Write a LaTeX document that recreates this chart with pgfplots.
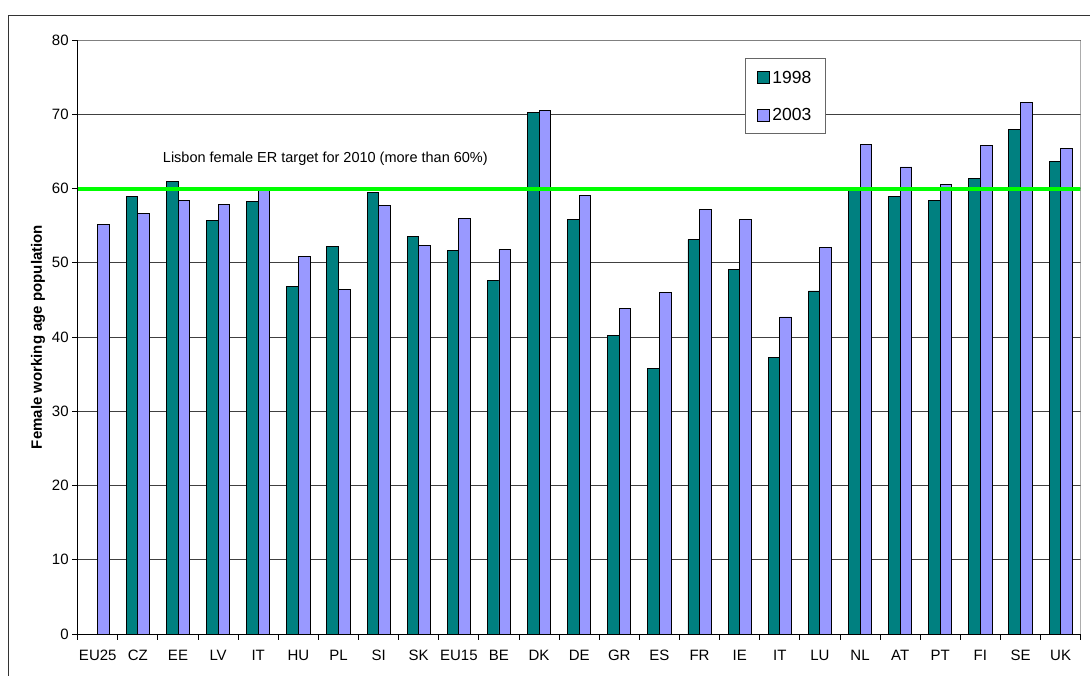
\documentclass[border=0pt]{standalone}
\usepackage{fontspec}
\setmainfont{Liberation Sans}
\usepackage{pgfplots}
\pgfplotsset{compat=1.18}
\definecolor{teal98}{RGB}{0,128,128}
\definecolor{lav03}{RGB}{153,153,255}
\definecolor{lisbon}{RGB}{0,255,0}
\pgfplotsset{barleg/.style={legend image code/.code={\draw[##1,/tikz/.cd,line width=0.8pt] (0pt,-6pt) rectangle (12pt,6pt);}}}
\begin{document}
\begin{tikzpicture}
\path[use as bounding box] (0pt,0pt) rectangle (1090pt,-675pt);
\draw[black!80, line width=1pt] (8pt,-15pt) rectangle (1110pt,-700pt);
\begin{axis}[
    at={(77.7pt,-634pt)}, anchor=south west,
    width=1003pt, height=594pt, scale only axis,
    xmin=-0.5, xmax=24.5,
    ymin=0, ymax=80,
    axis x line*=bottom, axis y line*=left,
    axis line style={black, line width=1pt},
    tick align=outside,
    major tick length=5.5pt,
    ytick={0,10,...,80},
    ymajorgrids,
    grid style={black!75, line width=0.9pt},
    tick style={black, line width=0.9pt},
    xtick={0,...,24},
    xticklabels={EU25,CZ,EE,LV,IT,HU,PL,SI,SK,EU15,BE,DK,DE,GR,ES,FR,IE,IT,LU,NL,AT,PT,FI,SE,UK},
    xtick style={draw=none},
    extra x ticks={-0.5,0.5,...,24.5},
    extra x tick labels={},
    extra x tick style={xtick style={draw=black}},
    tick label style={font=\fontsize{15}{17}\selectfont},
    xticklabel style={yshift=-7pt},
    /pgf/number format/assume math mode=true,
    ylabel={Female working age population},
    ylabel style={font=\bfseries\fontsize{15}{17}\selectfont, at={(axis description cs:-0.0396,0.5)}, anchor=center},
    legend style={at={(0.665,0.969)}, anchor=north west, draw=black!60, line width=0.8pt,
        font=\fontsize{17.5}{20}\selectfont, inner xsep=12pt, inner ysep=11pt, row sep=21.5pt,
        nodes={inner xsep=2.5pt, inner ysep=1pt}},
    legend cell align=left,
]
\addplot[ybar, bar width=11.6pt, bar shift=-5.8pt, fill=teal98, draw=black, line width=0.9pt, barleg] coordinates {
    (1,58.9) (2,60.9) (3,55.7) (4,58.2) (5,46.8) (6,52.2) (7,59.5) (8,53.6)
    (9,51.6) (10,47.6) (11,70.2) (12,55.8) (13,40.2) (14,35.8) (15,53.1) (16,49.1)
    (17,37.3) (18,46.2) (19,60.0) (20,58.9) (21,58.4) (22,61.3) (23,68.0) (24,63.7)
};
\addlegendentry{1998}
\addplot[ybar, bar width=11.6pt, bar shift=5.8pt, fill=lav03, draw=black, line width=0.9pt, barleg] coordinates {
    (0,55.1) (1,56.6) (2,58.4) (3,57.8) (4,60.1) (5,50.9) (6,46.4) (7,57.7) (8,52.3)
    (9,56.0) (10,51.8) (11,70.5) (12,59.0) (13,43.8) (14,46.0) (15,57.2) (16,55.8)
    (17,42.7) (18,52.1) (19,65.9) (20,62.9) (21,60.6) (22,65.8) (23,71.6) (24,65.4)
};
\addlegendentry{2003}
\addplot[lisbon, line width=4pt, forget plot] coordinates {(-0.5,60) (24.5,60)};
\draw[black!50, line width=1pt] (rel axis cs:0,1) -- (rel axis cs:1,1) -- (rel axis cs:1,0);
\node[anchor=base west, inner sep=0pt, font=\fontsize{14.5}{17}\selectfont] at (axis cs:1.62,63.45) {Lisbon female ER target for 2010 (more than 60\%)};
\end{axis}
\end{tikzpicture}
\end{document}
